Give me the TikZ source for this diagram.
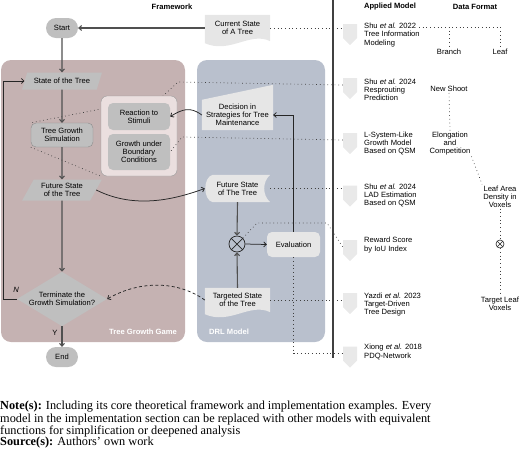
\documentclass[tikz,border=0pt]{standalone}
\usepackage{fontspec}
\setmainfont{Liberation Serif}
\setsansfont{Liberation Sans}
\usetikzlibrary{shapes.geometric,shapes.misc,shapes.symbols,arrows.meta,calc,backgrounds}

\definecolor{gamepink}{HTML}{C5B2B2}
\definecolor{drlblue}{HTML}{B9C0CD}
\definecolor{subpink}{HTML}{EBDFDF}
\definecolor{nodegray}{HTML}{BFBFBF}
\definecolor{boxlight}{HTML}{E6E6E6}
\definecolor{pingray}{HTML}{E9E9E9}
\definecolor{wiregray}{HTML}{505050}

\begin{document}
\begin{tikzpicture}[
    x=1pt, y=-1pt,
    font=\sffamily\fontsize{7.6}{8.2}\selectfont,
    pill/.style={rounded rectangle, fill=nodegray, minimum width=34pt, minimum height=20pt, inner sep=1pt},
    parabox/.style={trapezium, trapezium left angle=60, trapezium right angle=120, trapezium stretches=true, fill=nodegray, minimum width=80pt, align=center, inner sep=1pt},
    graybox/.style={fill=nodegray, rounded corners=5pt, align=center, inner sep=1pt},
    lightbox/.style={align=center, inner sep=1pt},
    decisionbox/.style={diamond, fill=nodegray, aspect=1.63, minimum width=90pt, minimum height=54pt, inner sep=0pt, align=center},
    modelpin/.style={signal, signal to=south, signal from=nowhere, fill=pingray, minimum width=14pt, minimum height=14pt, inner sep=0pt},
    modeltxt/.style={anchor=west, align=left, inner sep=0pt},
    datatxt/.style={align=center, inner sep=1pt},
    headtxt/.style={font=\sffamily\bfseries\fontsize{7.6}{8.2}\selectfont},
    panellabel/.style={font=\sffamily\bfseries\fontsize{7.6}{8.2}\selectfont, text=white, inner sep=0pt},
    wire/.style={draw=wiregray, line width=1.1pt, -{Straight Barb[length=2.6pt,width=5pt]}},
    bendwire/.style={draw=black!85, line width=0.75pt, -{Straight Barb[length=2.6pt,width=5pt]}},
    dashwire/.style={bendwire, dash pattern=on 3pt off 2.5pt},
    dotline/.style={draw=black!75, line width=0.7pt, dash pattern=on 0.7pt off 3pt}
]
\useasboundingbox (0,0) rectangle (520,459);

% headers
\node[headtxt] (hframe) at (172,7) {Framework};
\node[headtxt] (hmodel) at (390,7) {Applied Model};
\node[headtxt] (hdata) at (475,7) {Data Format};
\draw[line width=1.4pt, draw=black!75] (333,0) -- (333,358);

% Tree Growth Game
\node[pill] (start) at (62,28) {Start};
\node[parabox, minimum height=17pt] (state) at (62,81) {State of the Tree};
\node[graybox, draw=black!45, minimum width=62pt, minimum height=24pt] (tgs) at (62,135) {Tree Growth\\Simulation};
\node[fill=subpink, draw=black!40, rounded corners=6pt, minimum width=76pt, minimum height=80pt] (sub) at (139,136) {};
\node[graybox, minimum width=62pt, minimum height=27pt] (react) at (139,116.5) {Reaction to\\Stimuli};
\node[graybox, minimum width=62pt, minimum height=36pt] (bound) at (139,152) {Growth under\\Boundary\\Conditions};
\node[parabox, minimum height=21pt] (fstate) at (62,190) {Future State\\of the Tree};
\node[decisionbox] (term) at (62,299) {Terminate the\\Growth Simulation?};
\node[pill] (finish) at (62,357) {End};
\node[panellabel, anchor=east] (lgame) at (177,332) {Tree Growth Game};
\node (nlabel) at (16,290) {\textit{N}};
\node (ylabel) at (55,333) {Y};

% DRL Model
\node[lightbox, minimum width=65pt, minimum height=26pt] (cur) at (237.5,28) {Current State\\of A Tree};
\node[lightbox, minimum width=71pt, minimum height=30pt] (decide) at (237.5,115) {Decision in\\Strategies for Tree\\Maintenance};
\node[lightbox, minimum width=65pt, minimum height=27pt] (fut2) at (237.5,188.5) {Future State\\of The Tree};
\node[circle, draw=black!85, line width=0.7pt, minimum size=16pt, inner sep=0pt] (ot) at (237,244) {};
\draw[black!85, line width=0.7pt] (ot.45) -- (ot.225) (ot.135) -- (ot.315);
\node[fill=boxlight, rounded corners=5pt, minimum width=53pt, minimum height=25pt, inner sep=1pt] (evaln) at (293.5,244.5) {Evaluation};
\node[lightbox, minimum width=65pt, minimum height=24pt] (target) at (237.5,300) {Targeted State\\of the Tree};
\node[panellabel, anchor=west] (ldrl) at (209,332) {DRL Model};

% Applied Model
\node[modelpin] (m1) at (350,31) {};
\node[modelpin] (m2) at (350,85) {};
\node[modelpin] (m3) at (350,140) {};
\node[modelpin] (m4) at (350,192.5) {};
\node[modelpin] (m5) at (350,247) {};
\node[modelpin] (m6) at (350,300) {};
\node[modelpin] (m7) at (350,353.5) {};
\node[modeltxt] (t1) at (364,35) {Shu \textit{et al.} 2022\\Tree Information\\Modeling};
\node[modeltxt] (t2) at (364,89.5) {Shu \textit{et al.} 2024\\Resprouting\\Prediction};
\node[modeltxt] (t3) at (364,143.5) {L-System-Like\\Growth Model\\Based on QSM};
\node[modeltxt] (t4) at (364,195.5) {Shu \textit{et al.} 2024\\LAD Estimation\\Based on QSM};
\node[modeltxt] (t5) at (364,245) {Reward Score\\by IoU Index};
\node[modeltxt] (t6) at (364,304.5) {Yazdi \textit{et al.} 2023\\Target-Driven\\Tree Design};
\node[modeltxt] (t7) at (364,352) {Xiong \textit{et al.} 2018\\PDQ-Network};

% Data Format
\coordinate (dfork) at (419,27);
\node[datatxt] (branch) at (449,52) {Branch};
\node[datatxt] (leaf) at (500,52) {Leaf};
\node[datatxt] (shoot) at (449,89) {New Shoot};
\node[datatxt] (elong) at (450,143.5) {Elongation\\and\\Competition};
\node[datatxt] (lad) at (500,196.5) {Leaf Area\\Density in\\Voxels};
\node[circle, draw=black!85, line width=0.6pt, minimum size=8pt, inner sep=0pt] (ot2) at (500,244) {};
\draw[black!85, line width=0.6pt] (ot2.45) -- (ot2.225) (ot2.135) -- (ot2.315);
\node[datatxt] (tleaf) at (500,303.5) {Target Leaf\\Voxels};

% panels and shape fills
\begin{scope}[on background layer]
    \fill[gamepink, rounded corners=10pt] (1,60) rectangle (185,342);
    \fill[drlblue, rounded corners=10pt] (197,60) rectangle (325,342);
    \fill[boxlight] (cur.north west) -- (cur.north east) -- (cur.south east) .. controls +(-20,-10) and +(25,11) .. ($(cur.south west)+(0,2)$) -- cycle;
    \fill[boxlight] (target.north west) -- (target.north east) -- (target.south east) .. controls +(-20,-10) and +(25,11) .. ($(target.south west)+(0,2)$) -- cycle;
    \fill[boxlight] (decide.south west) -- (decide.north west) -- ($(decide.north east)+(0,-15)$) -- (decide.south east) -- cycle;
    \fill[boxlight] ($(fut2.north west)+(8,0)$) -- (fut2.north east) .. controls +(-8,7) and +(-8,-7) .. (fut2.south east) -- ($(fut2.south west)+(8,0)$) .. controls +(-10,-2) and +(-10,2) .. ($(fut2.north west)+(8,0)$) -- cycle;
    % zoom lines of the growth simulation
    \draw[dotline] (m2.west) -- (178,82) -- (162,97) -- (tgs.north west);
    \draw[dotline] (tgs.south west) -- (sub.south west);
\end{scope}

% flow
\draw[wire] (cur.west) -- (start.east);
\draw[wire] (start.south) -- (state.north);
\draw[wire] (state.south) -- (tgs.north);
\draw[wire] (tgs.south) -- (fstate.north);
\draw[wire] (fstate.south) -- (term.north);
\draw[wire] (term.south) -- (finish.north);
\draw[bendwire] (term.west) -- ++(-13,0) |- (state.west);
\draw[bendwire] (fstate.east) .. controls +(40,20) and +(-28,10) .. (fut2.west);
\draw[bendwire] (decide.west) .. controls +(-12,-9) and +(12,-7) .. (react.east);
\draw[bendwire] (evaln.north) |- (decide.east);
\draw[wire] (fut2.south) -- (ot.north);
\draw[wire] (target.north) -- (ot.south);
\draw[bendwire] (ot.east) -- (evaln.west);
\draw[dashwire] (target.west) .. controls +(-25,-18) and +(35,-20) .. (term.east);

% links to applied models
\draw[dotline] (cur.east) -- (cur.east -| m1.west);
\draw[dotline] (m3.west) -- (182,137) -- (bound.east);
\draw[dotline] (fut2.east) -- (fut2.east -| m4.west);
\draw[dotline] (ot.45) -- (257,223) -- (327,223) -- (m5.west);
\draw[dotline] (target.east) -- (target.east -| m6.west);
\draw[dotline] (evaln.south) |- (m7.west);

% data format links
\draw[dotline] (dfork) -- (dfork -| leaf) -- (leaf.north);
\draw[dotline] (dfork -| branch) -- (branch.north);
\draw[dotline] (shoot.south) -- (elong.north);
\draw[dotline] (elong.south east) -- (lad.north west);
\draw[dotline] (lad.south) -- (ot2.north);
\draw[dotline] (ot2.south) -- (tleaf.north);

% caption
\node[anchor=north west, inner sep=0pt, align=left, font=\rmfamily\fontsize{12.3}{12.3}\selectfont] (note) at (0,401) {\textbf{Note(s):} Including its core theoretical framework and implementation examples. Every\\model in the implementation section can be replaced with other models with equivalent\\functions for simplification or deepened analysis};
\node[anchor=north west, inner sep=0pt, font=\rmfamily\fontsize{12.3}{12.3}\selectfont] (source) at (0,437) {\textbf{Source(s):} Authors' own work};
\end{tikzpicture}
\end{document}
